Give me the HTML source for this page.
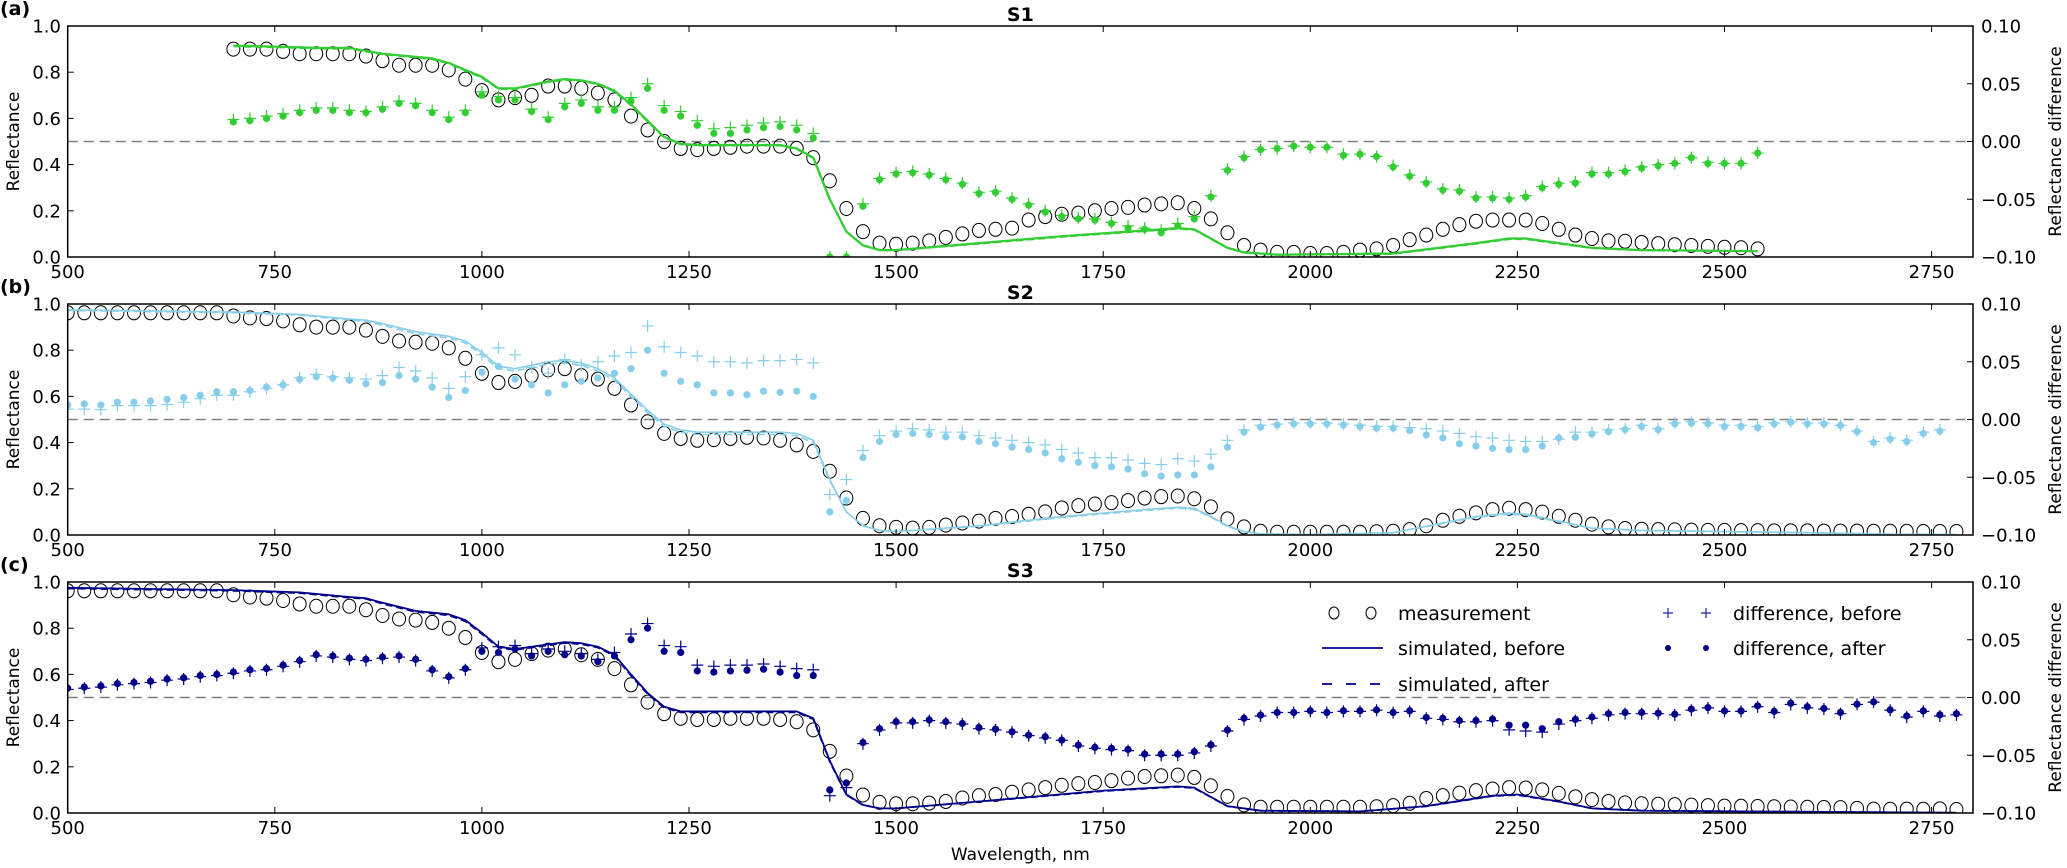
<!DOCTYPE html>
<html><head><meta charset="utf-8"><title>Reflectance S1 S2 S3</title>
<style>
html,body{margin:0;padding:0;background:#fff;}
svg{display:block;font-family:"DejaVu Sans","Liberation Sans",sans-serif;}
</style></head>
<body>
<svg id="chart" width="2067" height="868" viewBox="0 0 2067 868" xmlns="http://www.w3.org/2000/svg"></svg>
<script>
// ---------- data ----------
const xTicks = [500, 750, 1000, 1250, 1500, 1750, 2000, 2250, 2500, 2750];
const yTicks = [0.0, 0.2, 0.4, 0.6, 0.8, 1.0];
const yTickLabels = ["0.0", "0.2", "0.4", "0.6", "0.8", "1.0"];
const dTicks = [-0.10, -0.05, 0.00, 0.05, 0.10];
const dTickLabels = ["\u22120.10", "\u22120.05", "0.00", "0.05", "0.10"];
const panelTitles = ["S1", "S2", "S3"];
const panelLetters = ["(a)", "(b)", "(c)"];
const gridStep = 20;
const startS1 = 700, startS2 = 500, startS3 = 500;

const measS1 = [.90,.90,.90,.89,.88,.88,.88,.88,.87,.85,.83,.83,.83,.81,.77,.72,.68,.69,.70,.74,.74,.73,.71,.68,.61,.55,.50,.47,.465,.47,.475,.48,.48,.48,.47,.43,
.33,.21,.11,.06,.055,.06,.07,.085,.10,.115,.12,.125,.16,.175,.185,.19,.20,.21,.215,.225,.23,.235,.21,.165,.105,.05,.03,.02,.02,.015,.015,.02,.03,.035,.05,.075,.095,.12,.14,.155,.16,.16,.16,.145,.12,.095,.08,.07,.068,.063,.058,.053,.05,.046,.042,.04,.035];
const simS1Wl = [700,760,800,840,880,940,960,1000,1020,1040,1080,1100,1120,1140,1160,1180,1200,1220,1240,1260,1360,1380,1400,1420,1440,1460,1480,1500,1600,1700,1780,1840,1860,1880,1900,1920,1960,2100,2200,2240,2260,2300,2340,2400,2540];
const simS1Before = [.915,.91,.905,.905,.88,.86,.84,.78,.73,.73,.76,.77,.765,.75,.72,.66,.59,.52,.49,.485,.485,.47,.43,.25,.11,.05,.03,.03,.06,.09,.11,.125,.12,.08,.04,.02,.01,.015,.06,.08,.08,.06,.04,.03,.025];
const simS1After = [.912,.908,.903,.902,.878,.857,.838,.777,.728,.727,.758,.767,.763,.748,.717,.657,.587,.518,.488,.483,.483,.468,.428,.25,.11,.05,.03,.03,.058,.088,.108,.123,.118,.079,.04,.02,.01,.014,.058,.078,.078,.058,.039,.03,.025];
const diffAfterS1 = [.017,.018,.020,.022,.025,.027,.027,.025,.025,.028,.033,.031,.025,.019,.025,.040,.036,.036,.026,.019,.030,.033,.027,.027,.035,.046,.027,.022,.014,.007,.007,.010,.012,.013,.010,.003,
-.1,-.1,-.056,-.033,-.028,-.027,-.029,-.033,-.037,-.045,-.044,-.050,-.055,-.061,-.065,-.067,-.068,-.071,-.075,-.076,-.079,-.073,-.067,-.048,-.025,-.014,-.007,-.006,-.004,-.005,-.005,-.012,-.011,-.013,-.022,-.030,-.036,-.042,-.043,-.049,-.049,-.050,-.048,-.040,-.037,-.036,-.028,-.028,-.026,-.023,-.021,-.019,-.014,-.019,-.019,-.019,-.010];
const diffBeforeS1 = [.019,.020,.022,.024,.027,.029,.029,.027,.026,.030,.035,.033,.027,.021,.027,.043,.039,.038,.028,.021,.033,.036,.030,.030,.038,.050,.031,.026,.018,.011,.012,.014,.016,.017,.014,.007,
-.1,-.1,-.054,-.032,-.027,-.026,-.028,-.032,-.036,-.044,-.043,-.049,-.054,-.060,-.064,-.066,-.067,-.070,-.073,-.075,-.077,-.071,-.065,-.047,-.024,-.013,-.007,-.006,-.004,-.005,-.005,-.011,-.011,-.013,-.021,-.029,-.035,-.041,-.042,-.048,-.048,-.049,-.047,-.039,-.036,-.035,-.027,-.027,-.025,-.022,-.020,-.019,-.014,-.018,-.019,-.019,-.010];

const measS2 = [.962,.962,.962,.962,.962,.962,.962,.962,.962,.962,.948,.94,.937,.927,.91,.90,.90,.90,.887,.86,.84,.835,.83,.81,.765,.70,.66,.665,.69,.715,.72,.69,.675,.635,.563,.49,.44,.418,.41,.413,.418,.423,.42,.41,.39,.362,
.276,.16,.072,.04,.033,.03,.033,.043,.052,.06,.072,.08,.09,.10,.117,.127,.134,.14,.149,.16,.166,.169,.157,.122,.07,.035,.016,.012,.012,.012,.012,.012,.012,.014,.016,.023,.04,.064,.081,.096,.11,.116,.11,.099,.081,.064,.047,.035,.028,.025,.023,.022,.021,.02,.02,.019,.019,.018,.018,.018,.017,.017,.017,.016,.016,.016,.015,.015,.015];
const simS2Wl = [500,700,780,840,860,880,920,960,980,1000,1020,1040,1060,1080,1100,1120,1140,1160,1180,1200,1220,1240,1260,1300,1360,1380,1400,1420,1440,1460,1480,1500,1600,1700,1800,1840,1860,1880,1900,1920,1940,2000,2100,2200,2240,2260,2300,2340,2400,2600,2700,2780];
const simS2Before = [.975,.965,.955,.935,.93,.915,.88,.86,.84,.79,.73,.72,.735,.75,.755,.745,.72,.68,.61,.54,.48,.455,.445,.445,.445,.44,.41,.24,.10,.04,.02,.015,.04,.08,.11,.12,.115,.08,.04,.015,.005,.002,.01,.08,.095,.09,.06,.03,.02,.01,.003,.002];
const simS2After = [.972,.962,.952,.93,.925,.908,.872,.852,.832,.78,.72,.71,.725,.74,.745,.735,.71,.67,.6,.53,.47,.445,.435,.435,.435,.43,.40,.235,.10,.04,.02,.015,.038,.076,.106,.116,.111,.077,.038,.014,.005,.002,.01,.076,.09,.086,.057,.029,.019,.01,.003,.002];
const diffAfterS2 = [.0126,.0135,.0126,.015,.015,.016,.0175,.019,.021,.024,.024,.025,.028,.030,.035,.037,.036,.034,.031,.032,.038,.035,.028,.019,.025,.041,.046,.035,.030,.023,.030,.033,.036,.040,.044,.060,.040,.033,.030,.023,.023,.0215,.0245,.0235,.0245,.020,
-.080,-.070,-.033,-.019,-.013,-.012,-.013,-.015,-.015,-.019,-.021,-.024,-.026,-.029,-.034,-.037,-.040,-.041,-.043,-.047,-.049,-.048,-.048,-.041,-.024,-.011,-.0067,-.0047,-.0038,-.0038,-.0038,-.0047,-.006,-.0075,-.0075,-.0096,-.0134,-.016,-.021,-.023,-.025,-.026,-.026,-.023,-.016,-.0154,-.0125,-.0105,-.0087,-.006,-.0087,-.0038,-.0032,-.0038,-.006,-.006,-.007,-.0038,-.0023,-.0038,-.0038,-.0052,-.0105,-.020,-.017,-.019,-.012,-.010];
const diffBeforeS2 = [.009,.009,.0085,.012,.012,.012,.013,.015,.018,.021,.021,.024,.027,.030,.036,.039,.037,.036,.035,.038,.045,.042,.036,.027,.037,.056,.062,.056,.045,.040,.052,.047,.050,.055,.058,.081,.063,.058,.055,.050,.050,.049,.051,.051,.052,.049,
-.065,-.052,-.027,-.014,-.010,-.008,-.009,-.011,-.011,-.014,-.016,-.018,-.020,-.022,-.026,-.029,-.033,-.033,-.035,-.038,-.039,-.034,-.036,-.030,-.018,-.009,-.005,-.004,-.003,-.003,-.003,-.004,-.005,-.006,-.006,-.007,-.008,-.010,-.012,-.015,-.016,-.018,-.019,-.019,-.017,-.011,-.011,-.009,-.008,-.005,-.008,-.003,-.002,-.003,-.005,-.005,-.006,-.003,-.002,-.003,-.003,-.005,-.010,-.019,-.016,-.018,-.011,-.009];

const measS3 = [.962,.962,.962,.962,.962,.962,.962,.962,.962,.962,.945,.935,.93,.92,.905,.895,.895,.895,.88,.855,.84,.835,.825,.80,.76,.695,.655,.665,.69,.705,.71,.685,.665,.625,.555,.48,.43,.41,.405,.405,.41,.41,.41,.405,.395,.36,
.267,.16,.078,.046,.04,.04,.043,.05,.065,.075,.08,.09,.10,.11,.12,.127,.132,.14,.151,.158,.161,.164,.154,.118,.072,.035,.025,.025,.025,.025,.025,.025,.025,.027,.032,.042,.063,.075,.086,.097,.104,.11,.108,.10,.085,.07,.058,.05,.044,.04,.038,.036,.034,.032,.03,.029,.028,.027,.026,.025,.024,.023,.02,.017,.016,.017,.016,.018,.015];
const simS3Wl = [500,700,780,840,860,880,920,960,980,1000,1020,1040,1080,1100,1120,1140,1160,1180,1200,1220,1240,1260,1380,1400,1420,1440,1460,1480,1500,1600,1750,1840,1860,1900,1940,2060,2140,2220,2250,2300,2340,2400,2600,2780];
const simS3Before = [.975,.965,.955,.935,.93,.91,.875,.86,.835,.78,.72,.71,.73,.74,.735,.72,.685,.60,.52,.46,.44,.44,.44,.41,.226,.08,.035,.02,.02,.05,.097,.115,.11,.03,.01,.007,.03,.075,.08,.05,.02,.01,.005,.001];
const simS3After = [.972,.962,.952,.932,.927,.906,.871,.856,.83,.775,.716,.706,.726,.736,.731,.716,.68,.595,.515,.456,.436,.436,.436,.406,.222,.078,.034,.02,.02,.049,.095,.113,.108,.029,.01,.007,.029,.073,.078,.049,.02,.01,.005,.001];
const diffAfterS3 = [.008,.009,.010,.012,.013,.014,.016,.017,.019,.020,.022,.024,.025,.028,.032,.037,.036,.034,.033,.035,.036,.033,.024,.018,.025,.040,.039,.042,.036,.040,.037,.036,.031,.036,.050,.060,.040,.039,.023,.022,.023,.0236,.0245,.022,.019,.019,
-.080,-.074,-.039,-.027,-.021,-.021,-.0194,-.021,-.0225,-.026,-.0274,-.0297,-.0326,-.034,-.0369,-.0412,-.0432,-.044,-.045,-.049,-.049,-.049,-.047,-.041,-.0282,-.018,-.0153,-.013,-.013,-.0115,-.013,-.0115,-.0115,-.0107,-.013,-.0115,-.0173,-.018,-.020,-.020,-.0187,-.024,-.024,-.027,-.021,-.019,-.017,-.014,-.013,-.013,-.0136,-.0145,-.010,-.0087,-.0116,-.0116,-.0072,-.012,-.005,-.008,-.0095,-.013,-.0058,-.0038,-.0107,-.016,-.0116,-.015,-.014];
const diffBeforeS3 = [.007,.008,.009,.011,.012,.013,.015,.016,.018,.019,.021,.023,.024,.027,.031,.036,.035,.033,.032,.034,.035,.032,.023,.017,.024,.043,.044,.045,.038,.042,.040,.038,.033,.039,.055,.064,.045,.044,.028,.027,.028,.028,.029,.027,.025,.024,
-.085,-.078,-.040,-.028,-.022,-.022,-.020,-.022,-.023,-.027,-.028,-.030,-.033,-.035,-.037,-.042,-.044,-.045,-.046,-.050,-.050,-.050,-.048,-.042,-.029,-.019,-.016,-.013,-.013,-.012,-.013,-.012,-.012,-.011,-.013,-.012,-.018,-.019,-.021,-.021,-.020,-.028,-.029,-.030,-.023,-.020,-.018,-.015,-.014,-.014,-.014,-.015,-.011,-.009,-.012,-.012,-.008,-.013,-.006,-.009,-.010,-.014,-.006,-.004,-.011,-.017,-.012,-.016,-.015];

// ---------- layout ----------
const X0 = 67.7, X1 = 1973, NM0 = 500, NM1 = 2800;
const panelTops = [26, 304, 582];
const PH = 231;
const NS = "http://www.w3.org/2000/svg";
const svg = document.getElementById('chart');

function xScale(nm) { return X0 + (nm - NM0) / (NM1 - NM0) * (X1 - X0); }
function yScale(top, r) { return top + PH - r * PH; }
function dScale(top, d) { return yScale(top, 0.5 + d * 5); }

function mk(tag, attrs, parent) {
  const e = document.createElementNS(NS, tag);
  for (const k in attrs) e.setAttribute(k, attrs[k]);
  (parent || svg).appendChild(e);
  return e;
}
function txt(s, attrs, parent) {
  const e = mk('text', attrs, parent);
  e.textContent = s;
  return e;
}

const panels = [
  {meas: measS1, start: startS1, simWl: simS1Wl, simB: simS1Before, simA: simS1After, dA: diffAfterS1, dB: diffBeforeS1, color: '#32cd32', sw: 2.2},
  {meas: measS2, start: startS2, simWl: simS2Wl, simB: simS2Before, simA: simS2After, dA: diffAfterS2, dB: diffBeforeS2, color: '#87ceeb', sw: 1.6},
  {meas: measS3, start: startS3, simWl: simS3Wl, simB: simS3Before, simA: simS3After, dA: diffAfterS3, dB: diffBeforeS3, color: '#00008b', sw: 1.8}
];

function plus(g, x, y, color, s) {
  const p = mk('path', {d: `M${x - s} ${y}H${x + s}M${x} ${y - s}V${y + s}`, stroke: color, 'stroke-width': 1.2, fill: 'none'}, g);
  return p;
}

panels.forEach((p, i) => {
  const top = panelTops[i], bot = top + PH;
  const g = mk('g', {});
  
  

  const cp = mk('clipPath', {id: 'clip' + i}, g);
  mk('rect', {x: X0, y: top, width: X1 - X0, height: PH}, cp);
  const plot = mk('g', {'clip-path': `url(#clip${i})`}, g);

  const zl = mk('line', {x1: X0, x2: X1, y1: dScale(top, 0), y2: dScale(top, 0), stroke: '#808080', 'stroke-width': 1.5, 'stroke-dasharray': '10,6'}, plot);
  
  

  const mg = mk('g', {}, plot);
  
  
  p.meas.forEach((v, k) => {
    const c = mk('ellipse', {cx: xScale(p.start + k * gridStep), cy: yScale(top, v), rx: 6.5, ry: 7, fill: 'none', stroke: '#000', 'stroke-width': 1}, mg);
    
    
  });

  const ptsB = p.simWl.map((w, k) => `${xScale(w).toFixed(1)},${yScale(top, p.simB[k]).toFixed(1)}`).join(' ');
  const ptsA = p.simWl.map((w, k) => `${xScale(w).toFixed(1)},${yScale(top, p.simA[k]).toFixed(1)}`).join(' ');
  const lb = mk('polyline', {points: ptsB, fill: 'none', stroke: p.color, 'stroke-width': p.sw, 'stroke-linejoin': 'round'}, plot);
  
  
  const la = mk('polyline', {points: ptsA, fill: 'none', stroke: p.color, 'stroke-width': p.sw, 'stroke-dasharray': '7,4'}, plot);
  
  

  const dg = mk('g', {}, plot);
  
  
  p.dB.forEach((v, k) => {
    const m = plus(dg, xScale(p.start + k * gridStep), dScale(top, v), p.color, 6);
    
    
  });
  p.dA.forEach((v, k) => {
    const c = mk('circle', {cx: xScale(p.start + k * gridStep), cy: dScale(top, v), r: 3.6, fill: p.color}, dg);
    
    
  });

  const fr = mk('rect', {x: X0, y: top, width: X1 - X0, height: PH, fill: 'none', stroke: '#000', 'stroke-width': 1.5}, g);
  
  

  xTicks.forEach(t => {
    const x = xScale(t);
    mk('line', {x1: x, x2: x, y1: bot, y2: bot - 6, stroke: '#000', 'stroke-width': 1}, g);
    mk('line', {x1: x, x2: x, y1: top, y2: top + 6, stroke: '#000', 'stroke-width': 1}, g);
    const l = txt(String(t), {x: x, y: bot + 21, 'font-size': 18, 'text-anchor': 'middle', fill: '#000'}, g);
    
    
  });
  yTicks.forEach((t, k) => {
    const y = yScale(top, t);
    mk('line', {x1: X0, x2: X0 + 6, y1: y, y2: y, stroke: '#000', 'stroke-width': 1}, g);
    const l = txt(yTickLabels[k], {x: 61, y: y + 6.5, 'font-size': 18, 'text-anchor': 'end', fill: '#000'}, g);
    
    
  });
  dTicks.forEach((t, k) => {
    const y = dScale(top, t);
    mk('line', {x1: X1, x2: X1 - 6, y1: y, y2: y, stroke: '#000', 'stroke-width': 1}, g);
    const l = txt(dTickLabels[k], {x: 1981, y: y + 6.5, 'font-size': 18, 'text-anchor': 'start', fill: '#000'}, g);
    
    
  });
  const cy = top + PH / 2;
  const yl = txt('Reflectance', {x: 0, y: 0, 'font-size': 17, 'text-anchor': 'middle', transform: `translate(19,${cy}) rotate(-90)`}, g);
  
  
  const rl = txt('Reflectance difference', {x: 0, y: 0, 'font-size': 17, 'text-anchor': 'middle', transform: `translate(2061,${cy}) rotate(-90)`}, g);
  
  
  const tt = txt(panelTitles[i], {x: (X0 + X1) / 2, y: top - 5, 'font-size': 19, 'font-weight': 'bold', 'text-anchor': 'middle'}, g);
  
  
  const pl = txt(panelLetters[i], {x: 0, y: top - 11, 'font-size': 19, 'font-weight': 'bold'}, g);
  
  
});

const xt = txt('Wavelength, nm', {x: (X0 + X1) / 2, y: 860, 'font-size': 17, 'text-anchor': 'middle'});



// legend (panel c)
const lg = mk('g', {});


const navy = '#00008b';
const r1 = 613, r2 = 648, r3 = 684;
[1334, 1371].forEach(x => mk('ellipse', {cx: x, cy: r1, rx: 5, ry: 6, fill: 'none', stroke: '#000', 'stroke-width': 1}, lg));
mk('line', {x1: 1322, x2: 1383, y1: r2, y2: r2, stroke: navy, 'stroke-width': 1.8}, lg);
mk('line', {x1: 1322, x2: 1383, y1: r3, y2: r3, stroke: navy, 'stroke-width': 1.8, 'stroke-dasharray': '10,14'}, lg);
[1668, 1706].forEach(x => plus(lg, x, r1, '#2222aa', 5));
[1668, 1706].forEach(x => mk('circle', {cx: x, cy: r2, r: 3, fill: navy}, lg));
const legendLabels = [['measurement', 1398, r1], ['simulated, before', 1398, r2], ['simulated, after', 1398, r3], ['difference, before', 1733, r1], ['difference, after', 1733, r2]];
legendLabels.forEach(e => {
  const t = txt(e[0], {x: e[1], y: e[2] + 7, 'font-size': 19}, lg);
  
  
});
</script>
</body></html>
